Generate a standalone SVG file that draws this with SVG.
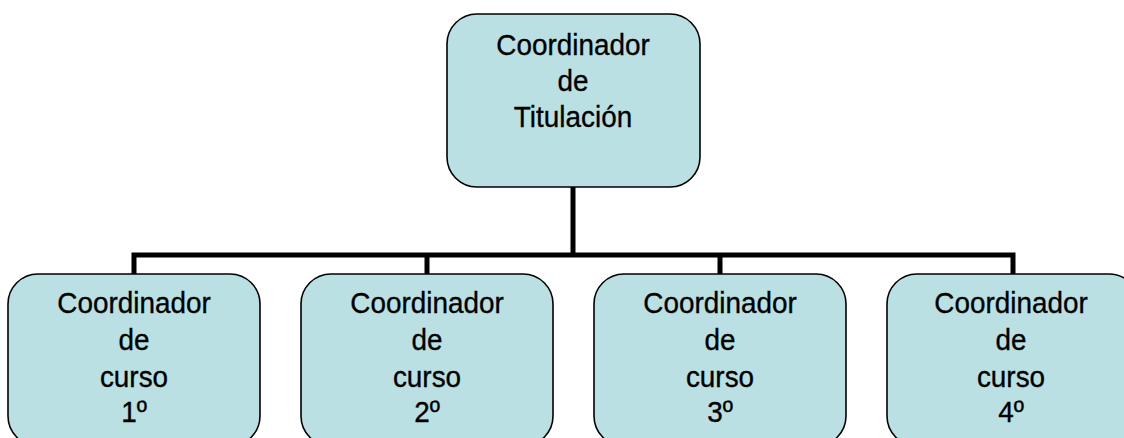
<svg xmlns="http://www.w3.org/2000/svg" width="1124" height="438" viewBox="0 0 1124 438">
<style>
.box{fill:#BAE0E3;stroke:#000;stroke-width:1.6}
.lbl{font-family:"Liberation Sans",Arial,sans-serif;font-size:30px;fill:#000;stroke:#000;stroke-width:0.35;text-anchor:middle}
.conn{fill:none;stroke:#000;stroke-width:5;stroke-linejoin:miter}
</style>
<rect width="1124" height="438" fill="#fff"/>
<g id="connectors">
<path class="conn" d="M573 187 V255"/>
<path class="conn" d="M134 274 V255 H1013 V274"/>
<path class="conn" d="M427 255 V274"/>
<path class="conn" d="M720 255 V274"/>
</g>
<g id="node-titulacion">
<rect class="box" x="447" y="14" width="253" height="173" rx="30" ry="30"/>
<g transform="translate(573,0) scale(0.93,1)">
<text class="lbl" x="0" y="55">Coordinador</text>
<text class="lbl" x="0" y="91">de</text>
<text class="lbl" x="0" y="127">Titulación</text>
</g>
</g>
<g id="node-curso1">
<rect class="box" x="8" y="274" width="252" height="172" rx="30" ry="30"/>
<g transform="translate(134,0) scale(0.93,1)">
<text class="lbl" x="0" y="313">Coordinador</text>
<text class="lbl" x="0" y="350">de</text>
<text class="lbl" x="0" y="387">curso</text>
<text class="lbl" x="0" y="422">1º</text>
</g>
</g>
<g id="node-curso2">
<rect class="box" x="301" y="274" width="252" height="172" rx="30" ry="30"/>
<g transform="translate(427,0) scale(0.93,1)">
<text class="lbl" x="0" y="313">Coordinador</text>
<text class="lbl" x="0" y="350">de</text>
<text class="lbl" x="0" y="387">curso</text>
<text class="lbl" x="0" y="422">2º</text>
</g>
</g>
<g id="node-curso3">
<rect class="box" x="594" y="274" width="252" height="172" rx="30" ry="30"/>
<g transform="translate(720,0) scale(0.93,1)">
<text class="lbl" x="0" y="313">Coordinador</text>
<text class="lbl" x="0" y="350">de</text>
<text class="lbl" x="0" y="387">curso</text>
<text class="lbl" x="0" y="422">3º</text>
</g>
</g>
<g id="node-curso4">
<rect class="box" x="887" y="274" width="252" height="172" rx="30" ry="30"/>
<g transform="translate(1011,0) scale(0.93,1)">
<text class="lbl" x="0" y="313">Coordinador</text>
<text class="lbl" x="0" y="350">de</text>
<text class="lbl" x="0" y="387">curso</text>
<text class="lbl" x="0" y="422">4º</text>
</g>
</g>
</svg>
